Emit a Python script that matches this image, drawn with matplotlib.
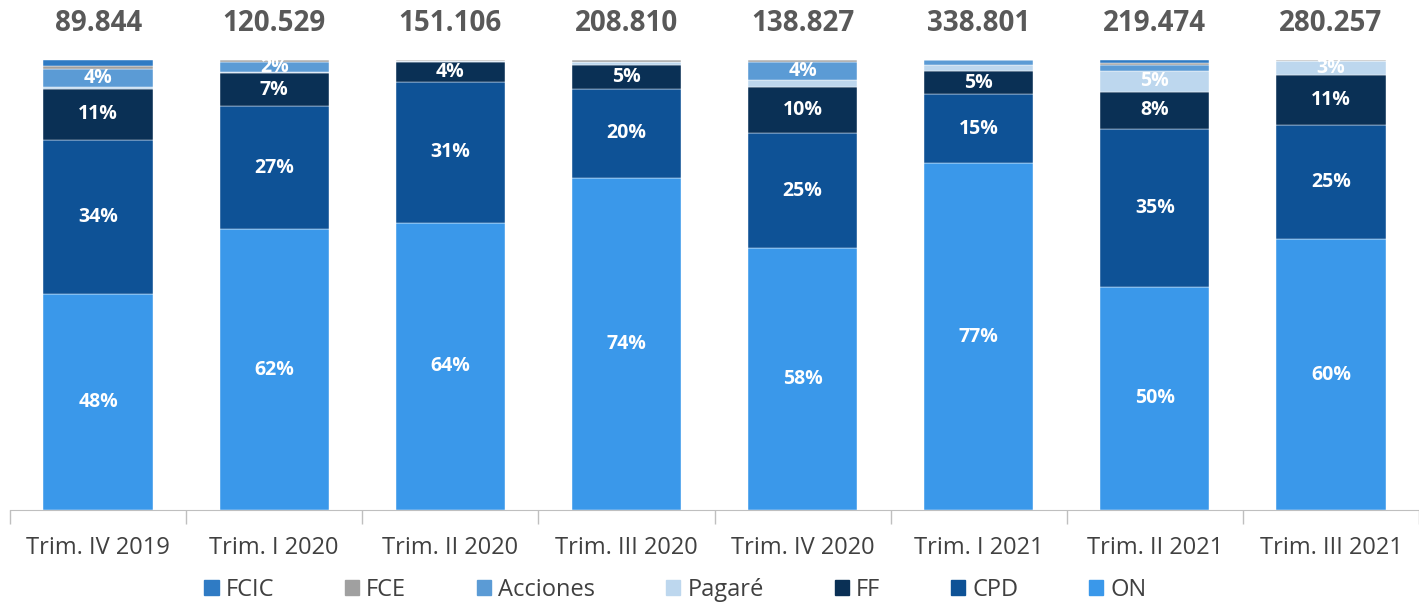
import numpy as np
import matplotlib.pyplot as plt
from matplotlib.patches import Patch

categories = ['Trim. IV 2019', 'Trim. I 2020', 'Trim. II 2020', 'Trim. III 2020',
              'Trim. IV 2020', 'Trim. I 2021', 'Trim. II 2021', 'Trim. III 2021']
totals = ['89.844', '120.529', '151.106', '208.810', '138.827', '338.801', '219.474', '280.257']

on = [48.0, 62.4, 63.8, 73.8, 58.3, 77.1, 49.6, 60.2]
cpd = [34.3, 27.3, 31.4, 19.8, 25.4, 15.3, 35.1, 25.3]
ff = [11.3, 7.4, 4.4, 5.3, 10.2, 5.1, 8.2, 11.1]
pagare = [0.3, 0.3, 0.2, 0.7, 1.7, 1.3, 4.7, 3.1]
acciones = [4.2, 2.1, 0.0, 0.0, 4.0, 1.2, 1.3, 0.0]
fce = [0.6, 0.5, 0.2, 0.4, 0.4, 0.0, 0.4, 0.3]
fcic = [1.3, 0.0, 0.0, 0.0, 0.0, 0.0, 0.7, 0.0]

series = [('ON', on, '#3A98EA'),
          ('CPD', cpd, '#0E5296'),
          ('FF', ff, '#0A3055'),
          ('Pagaré', pagare, '#BDD7EE'),
          ('Acciones', acciones, '#5B9BD5'),
          ('FCE', fce, '#A0A0A0'),
          ('FCIC', fcic, '#2F7BC4')]

fig = plt.figure(figsize=(14.19, 6.04), dpi=100)
ax = fig.add_axes([10 / 1419, 94 / 604, 1 - 10 / 1419, 450 / 604])

x = np.arange(len(categories))
bottom = np.zeros(len(categories))
for name, vals, color in series:
    vals = np.array(vals)
    ax.bar(x, vals, 0.62, bottom=bottom, color=color, edgecolor='white', linewidth=0.3)
    for i, v in enumerate(vals):
        if v >= 2.0:
            ax.text(x[i], bottom[i] + v / 2, f'{round(v):.0f}%', ha='center', va='center',
                    color='white', fontsize=14, fontweight='bold', family='Open Sans')
    bottom += vals

for i, t in enumerate(totals):
    ax.annotate(t, (x[i], 100), xytext=(0, 16), textcoords='offset points',
                ha='center', va='bottom', color='#595959', fontsize=20,
                fontweight='bold', family='Open Sans', annotation_clip=False)

ax.set_xlim(-0.5, 7.44)
ax.set_ylim(0, 100)
ax.set_yticks([])
ax.set_xticks(x)
ax.set_xticklabels(categories, fontsize=17, color='#404040', family='Open Sans')
ax.set_xticks(np.arange(-0.5, 8, 1), minor=True)
ax.tick_params(axis='x', which='major', length=0, pad=19)
ax.tick_params(axis='x', which='minor', length=10, color='#BFBFBF', width=1)
for s in ['top', 'right', 'left']:
    ax.spines[s].set_visible(False)
ax.spines['bottom'].set_color('#BFBFBF')

handles = [Patch(color=c, label=n) for n, _, c in series[::-1]]
fig.legend(handles=handles, loc='center', bbox_to_anchor=(0.476, 1 - 590 / 604), ncol=7,
           frameon=False, handlelength=0.6, handleheight=0.6,
           handletextpad=0.3, columnspacing=3.0,
           prop={'family': 'Open Sans', 'size': 17})
for t in fig.legends[0].get_texts():
    t.set_color('#404040')

fig.savefig('out.png', dpi=100)
